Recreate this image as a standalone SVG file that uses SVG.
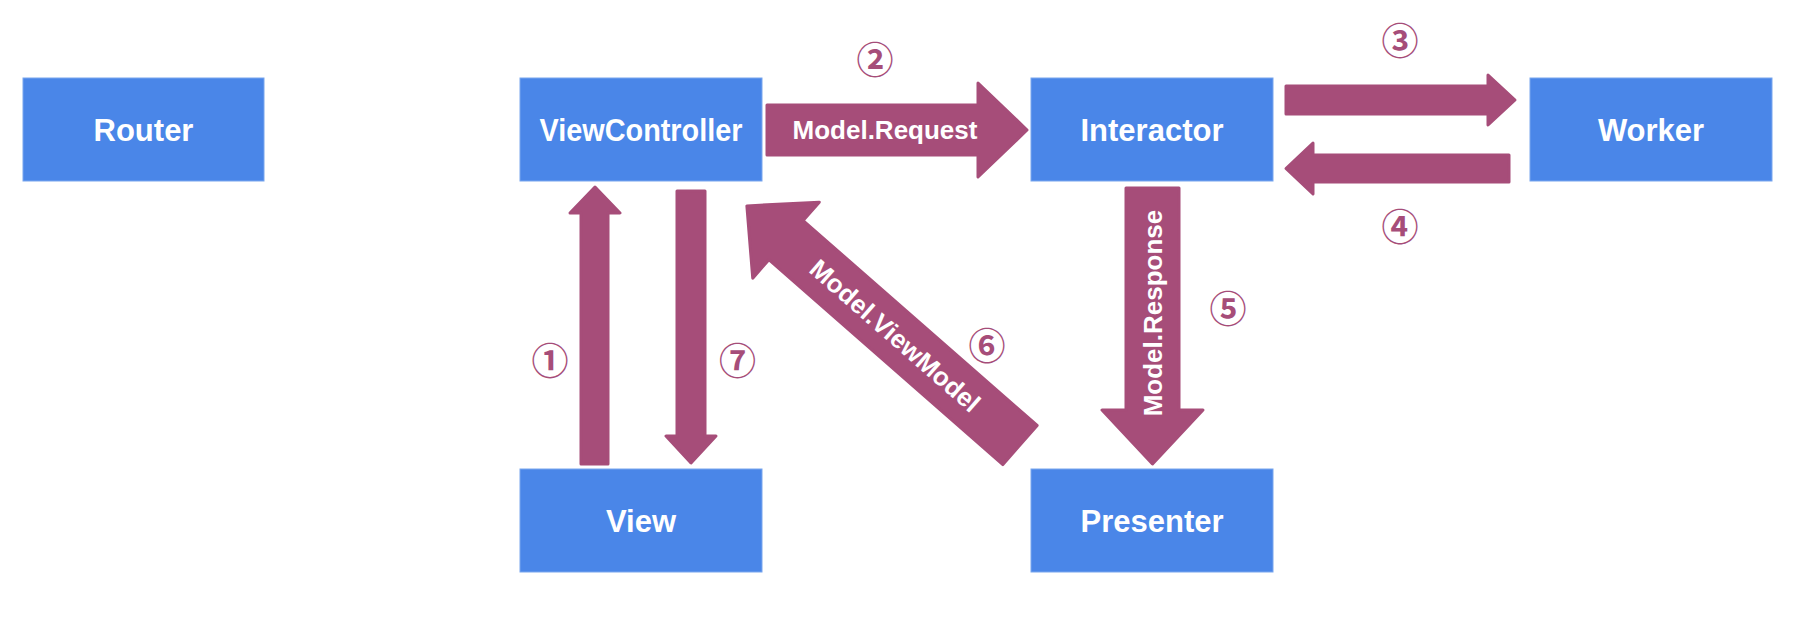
<svg xmlns="http://www.w3.org/2000/svg" width="1800" height="620" viewBox="0 0 1800 620">
<style>
.box{fill:#4a86e8;stroke:#79a6ee;stroke-width:1}
.nt{font-family:"Liberation Sans",Arial,sans-serif;font-weight:bold;font-size:31px;fill:#ffffff;text-anchor:middle}
.arr{fill:#a64d79;stroke:#a64d79;stroke-width:3;stroke-linejoin:round}
.lt{font-family:"Liberation Sans",Arial,sans-serif;font-weight:bold;font-size:26px;fill:#ffffff;text-anchor:middle}
.num{font-family:"Noto Sans CJK JP","DejaVu Sans",sans-serif;font-weight:bold;font-size:37px;fill:#a64d79;text-anchor:middle}
</style>
<rect width="1800" height="620" fill="#ffffff"/>
<g id="router"><rect class="box" x="23" y="78" width="241" height="103"/><text class="nt" x="143.5" y="141">Router</text></g>
<g id="viewcontroller"><rect class="box" x="520" y="78" width="242" height="103"/><text class="nt" x="641" y="141" textLength="203" lengthAdjust="spacingAndGlyphs">ViewController</text></g>
<g id="interactor"><rect class="box" x="1031" y="78" width="242" height="103"/><text class="nt" x="1152" y="141">Interactor</text></g>
<g id="worker"><rect class="box" x="1530" y="78" width="242" height="103"/><text class="nt" x="1651" y="141">Worker</text></g>
<g id="view"><rect class="box" x="520" y="469" width="242" height="103"/><text class="nt" x="641" y="532">View</text></g>
<g id="presenter"><rect class="box" x="1031" y="469" width="242" height="103"/><text class="nt" x="1152" y="532">Presenter</text></g>
<g id="connectors">
<path class="arr" d="M767,105 H978 V83 L1027,130 L978,177 V155 H767 Z"/>
<text class="lt" x="885" y="139">Model.Request</text>
<path class="arr" d="M1286,86 H1488 V75 L1515,100 L1488,125 V114 H1286 Z"/>
<path class="arr" d="M1509,155 H1313 V143 L1286,168.5 L1313,194 V182 H1509 Z"/>
<path class="arr" d="M581,464 V213 H570 L595,187 L620,213 H608 V464 Z"/>
<path class="arr" d="M677,191 H705 V436 H716 L691,463 L666,436 H677 Z"/>
<path class="arr" d="M1126,188 H1179 V410 H1203 L1152.5,464 L1102,410 H1126 Z"/>
<text class="lt" x="1162" y="313" transform="rotate(-90 1162 313)">Model.Response</text>
<g transform="translate(1020,445) rotate(41.2)">
<path class="arr" d="M0,-26 H-311 V-50.5 L-363,0 L-311,50.5 V26 H0 Z"/>
<text class="lt" x="-166" y="9">Model.ViewModel</text>
</g>
</g>
<g id="step-numbers">
<text class="num" x="550" y="375">①</text>
<text class="num" x="875" y="74">②</text>
<text class="num" x="1400" y="55">③</text>
<text class="num" x="1400" y="241">④</text>
<text class="num" x="1228" y="323">⑤</text>
<text class="num" x="987" y="360">⑥</text>
<text class="num" x="737.5" y="375">⑦</text>
</g>
</svg>
